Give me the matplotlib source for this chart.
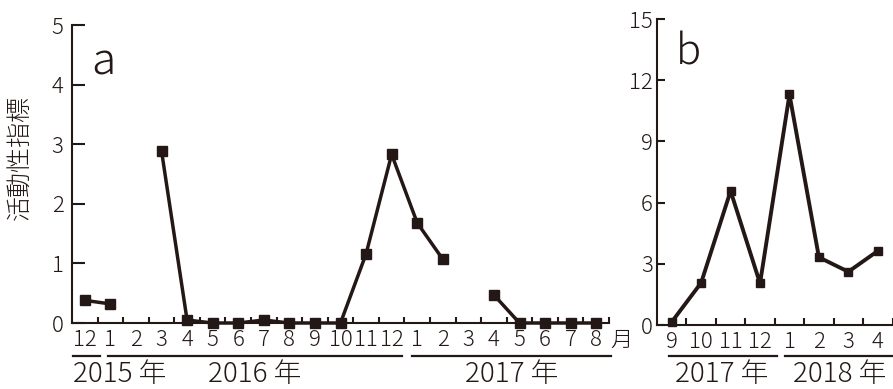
import numpy as np
import matplotlib
matplotlib.use('Agg')
import matplotlib.pyplot as plt
from matplotlib.transforms import blended_transform_factory

plt.rcParams['font.family'] = ['Noto Sans CJK JP', 'DejaVu Sans']
plt.rcParams['font.weight'] = 'light'

## Datos panel a (2015-12 a 2017-08)
meses_a = ['12', '1', '2', '3', '4', '5', '6', '7', '8', '9', '10', '11', '12',
           '1', '2', '3', '4', '5', '6', '7', '8']
valores_a = [0.38, 0.32, np.nan, 2.89, 0.05, 0.0, 0.0, 0.05, 0.0, 0.0, 0.0, 1.16, 2.83,
             1.68, 1.07, np.nan, 0.47, 0.0, 0.0, 0.0, 0.0]
anios_a = ['2015 年', '2016 年', '2017 年']

## Datos panel b (2017-09 a 2018-04)
meses_b = ['9', '10', '11', '12', '1', '2', '3', '4']
valores_b = [0.15, 2.07, 6.57, 2.04, 11.3, 3.32, 2.61, 3.63]
anios_b = ['2017 年', '2018 年']

color = '#231815'
W, H = 893, 389

fig = plt.figure(figsize=(W / 100, H / 100), dpi=100)

ax_a = fig.add_axes([72 / W, 1 - 323 / H, 537 / W, 298 / H])
ax_b = fig.add_axes([657 / W, 1 - 325 / H, 235.5 / W, 306 / H])


def estilo(ax, n, ymax, yticks, meses, ylen, xlen, ypad):
    for s in ['top', 'right']:
        ax.spines[s].set_visible(False)
    for s in ['left', 'bottom']:
        ax.spines[s].set_linewidth(1.5)
        ax.spines[s].set_color(color)
    ax.set_xlim(0, n)
    ax.set_ylim(0, ymax)
    ax.set_yticks(yticks)
    ax.set_xticks(np.arange(1, n + 1))
    ax.set_xticklabels([])
    ax.set_xticks(np.arange(n) + 0.5, minor=True)
    ax.set_xticklabels(meses, minor=True)
    ax.tick_params(axis='y', direction='in', length=ylen, width=1.5, color=color,
                   pad=ypad, labelsize=16, labelcolor=color)
    ax.tick_params(axis='x', which='major', direction='in', length=xlen, width=1.5, color=color)
    ax.tick_params(axis='x', which='minor', length=0, pad=4, labelsize=16, labelcolor=color)


def subrayados(ax, tramos, etiquetas, xs, has):
    tr = blended_transform_factory(ax.transData, fig.transFigure)
    for (x0, x1) in tramos:
        ax.plot([x0, x1], [1 - 356 / H] * 2, color=color, lw=1.6, transform=tr, clip_on=False)
    for lab, x, ha in zip(etiquetas, xs, has):
        ax.text(x, 1 - 382 / H, lab, transform=tr, ha=ha, va='baseline',
                fontsize=20, color=color)


## Panel a
x_a = np.arange(len(valores_a)) + 0.5
ax_a.plot(x_a, valores_a, color=color, lw=2.5, marker='s', markersize=6.5, clip_on=False)
estilo(ax_a, len(meses_a), 5, range(0, 6), meses_a, 9, 4.5, 6)
ax_a.text(21.05, 1 - 341 / H, '月', transform=blended_transform_factory(ax_a.transData, fig.transFigure),
          ha='left', va='center', fontsize=16, color=color)
ax_a.text(0.035, 0.95, 'a', transform=ax_a.transAxes, fontsize=32, color=color, ha='left', va='top')
subrayados(ax_a, [(0.04, 1.1), (1.41, 12.9), (13.3, 21.08)], anios_a,
           [0.04, 7.16, 17.2], ['left', 'center', 'center'])

## Panel b
x_b = np.arange(len(valores_b)) + 0.5
ax_b.plot(x_b, valores_b, color=color, lw=2.8, marker='s', markersize=5.5, clip_on=False)
estilo(ax_b, len(meses_b), 15, range(0, 16, 3), meses_b, 6, 5, 3)
ax_b.text(0.08, 0.96, 'b', transform=ax_b.transAxes, fontsize=30, color=color, ha='left', va='top')
subrayados(ax_b, [(0.41, 4.08), (4.35, 8.05)], anios_b,
           [2.2, 6.2], ['center', 'center'])

fig.text(19 / W, 1 - 158 / H, '活動性指標', rotation=90, ha='center', va='center',
         fontsize=18, color=color)

plt.savefig('out.png', dpi=100)
